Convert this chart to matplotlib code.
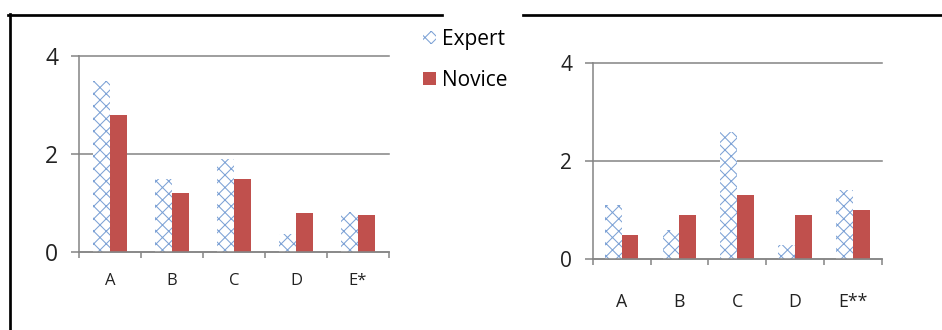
import matplotlib.pyplot as plt
from matplotlib.lines import Line2D
import numpy as np

# Mean scores per item, two groups, two sessions
categories_left = ["A", "B", "C", "D", "E*"]
expert_left = [3.5, 1.5, 1.9, 0.36, 0.82]
novice_left = [2.8, 1.2, 1.5, 0.8, 0.75]

categories_right = ["A", "B", "C", "D", "E**"]
expert_right = [1.1, 0.6, 2.6, 0.3, 1.4]
novice_right = [0.5, 0.9, 1.3, 0.9, 1.0]

BLUE = "#7DA2D6"
RED = "#C0504D"
GRID = "#868686"

plt.rcParams['font.family'] = ['Open Sans', 'DejaVu Sans']
plt.rcParams['hatch.linewidth'] = 1.0

W, H, DPI = 942, 330, 75
fig = plt.figure(figsize=(W / DPI, H / DPI), dpi=DPI)


def px_axes(x0, x1, ytop, ybot):
    return fig.add_axes([x0 / W, 1 - ybot / H, (x1 - x0) / W, (ybot - ytop) / H])


def draw_panel(ax, cats, expert, novice, width, ysize, xsize, xpad):
    x = np.arange(len(cats))
    ax.bar(x - width / 2, expert, width, facecolor='white', edgecolor=BLUE,
           linewidth=0, hatch='xx', label='Expert')
    ax.bar(x + width / 2, novice, width, color=RED, linewidth=0, label='Novice')
    ax.set_xlim(-0.5, len(cats) - 0.5)
    ax.set_ylim(0, 4)
    ax.set_yticks([0, 2, 4])
    ax.yaxis.grid(True, color=GRID, linewidth=1.5)
    for gl in ax.get_ygridlines():
        gl.set_clip_on(False)
    ax.set_axisbelow(True)
    for side in ('top', 'right'):
        ax.spines[side].set_visible(False)
    for side in ('left', 'bottom'):
        ax.spines[side].set_color(GRID)
        ax.spines[side].set_linewidth(1.5)
    ax.tick_params(axis='y', direction='out', length=7.7, width=1.5, color=GRID,
                   labelsize=ysize, pad=12, labelcolor='#222222')
    # tick marks between categories, labels centred under each group
    ax.set_xticks(np.arange(len(cats) + 1) - 0.5)
    ax.set_xticklabels([])
    ax.tick_params(axis='x', which='major', direction='out', length=5.8,
                   width=1.5, color=GRID)
    ax.set_xticks(x, minor=True)
    ax.set_xticklabels(cats, minor=True)
    ax.tick_params(axis='x', which='minor', length=0, labelsize=xsize,
                   pad=xpad, labelcolor='#222222')


ax1 = px_axes(79, 389, 56, 252)
draw_panel(ax1, categories_left, expert_left, novice_left, 0.28, 22, 16, 20)

ax2 = px_axes(592.7, 881.7, 62.7, 259.3)
draw_panel(ax2, categories_right, expert_right, novice_right, 0.29, 20, 17, 32)

handles, labels = ax1.get_legend_handles_labels()
fig.legend(handles, labels, loc='upper left',
           bbox_to_anchor=(423 / W, 1 - 29 / H), frameon=False, fontsize=20,
           handlelength=0.62, handleheight=0.62, handletextpad=0.3,
           borderpad=0, borderaxespad=0, labelspacing=0.95)

# outer frame lines
fig.add_artist(Line2D([8 / W, 442 / W], [1 - 14.5 / H] * 2,
                      transform=fig.transFigure, color='black', lw=2.6))
fig.add_artist(Line2D([523 / W, 1.0], [1 - 14.5 / H] * 2,
                      transform=fig.transFigure, color='black', lw=2.6))
fig.add_artist(Line2D([9.7 / W] * 2, [1 - 13.5 / H, 0],
                      transform=fig.transFigure, color='black', lw=2.6))

fig.savefig("out.png", dpi=DPI)
